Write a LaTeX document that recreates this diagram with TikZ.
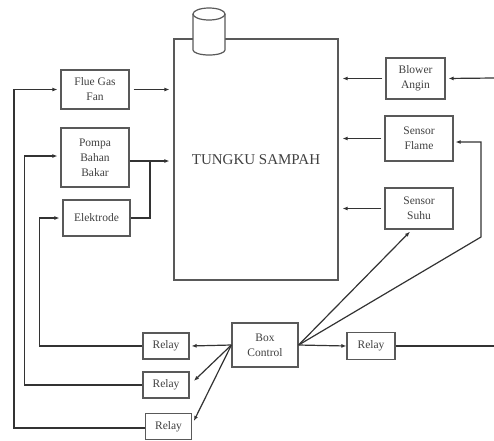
\documentclass[tikz,border=0pt]{standalone}
\usepackage{fontspec}
\setmainfont{Liberation Serif}
\usepackage{tikz}
\usetikzlibrary{arrows.meta,positioning,calc}

\begin{document}
\begin{tikzpicture}[
  x=1pt, y=-1pt,
  box/.style={draw=black!65, line width=1.2pt, align=center, inner sep=1pt,
    text=black!75, font=\fontsize{11.5}{15}\selectfont},
  relaybox/.style={box, minimum width=46pt, minimum height=26pt},
  arr/.style={-{Latex[length=5pt,width=4pt]}, line width=1.2pt, draw=black!80},
  wire/.style={line width=1.2pt, draw=black!80}
]
  \useasboundingbox (0,0) rectangle (494,440);

  % furnace with chimney
  \node[box, minimum width=164pt, minimum height=241pt,
    font=\fontsize{15}{17}\selectfont] (tungku) at (256,159.5) {TUNGKU SAMPAH};
  \draw[draw=black!65, line width=1.2pt, fill=white] (193,14) -- (193,50)
    arc[start angle=180, end angle=0, x radius=16, y radius=5] -- (225,14);
  \draw[draw=black!65, line width=1.2pt, fill=white] (209,14) ellipse[x radius=16, y radius=6];

  % actuators (left)
  \node[box, minimum width=68pt, minimum height=39pt] (flue) at (95,89.5) {Flue Gas\\Fan};
  \node[box, minimum width=68pt, minimum height=59pt] (pompa) at (95,157.5) {Pompa\\Bahan\\Bakar};
  \node[box, minimum width=67pt, minimum height=36pt] (elek) at (96.5,218) {Elektrode};

  % blower and sensors (right)
  \node[box, minimum width=59pt, minimum height=41pt] (blower) at (415.5,78.5) {Blower\\Angin};
  \node[box, minimum width=68pt, minimum height=45pt] (flame) at (419,138.5) {Sensor\\Flame};
  \node[box, minimum width=68pt, minimum height=41pt] (suhu) at (419,208.5) {Sensor\\Suhu};

  % controller and relays
  \node[box, minimum width=66pt, minimum height=44pt] (ctrl) at (265,345) {Box\\Control};
  \node[relaybox, minimum width=48pt, minimum height=27pt] (relayR) at (371,346) {Relay};
  \node[relaybox] (relayA) at (166,346) {Relay};
  \node[relaybox] (relayB) at (166,385) {Relay};
  \node[relaybox] (relayC) at (168.5,426.5) {Relay};

  \coordinate (j) at (150,161);
  \coordinate (inBlower) at (494,78);
  \coordinate (outRelay) at (494,346);

  % into the furnace
  \draw[arr, shorten <=4pt, shorten >=4pt] (flue.east) -- (tungku.west |- flue.east);
  \draw[wire] (pompa.east |- j) -- (j);
  \draw[wire] (elek.east) -| (j);
  \draw[arr, shorten >=4pt] (j) -- (tungku.west |- j);
  \draw[arr, shorten <=3pt, shorten >=4pt] (blower.west) -- (tungku.east |- blower.west);
  \draw[arr, shorten <=3pt, shorten >=4pt] (flame.west) -- (tungku.east |- flame.west);
  \draw[arr, shorten <=3pt, shorten >=4pt] (suhu.west) -- (tungku.east |- suhu.west);
  \draw[arr, shorten >=3pt] (inBlower) -- (blower.east);

  % controller outputs
  \draw[arr, shorten >=3pt] (ctrl.east) -- ([xshift=-7pt]suhu.south);
  \draw[arr, shorten >=2pt] (ctrl.east) -- (481,237) |- ([yshift=-3.5pt]flame.east);
  \draw[arr] (ctrl.east) -- (relayR.west);
  \draw[wire] (relayR.east) -- (outRelay);
  \draw[arr, shorten >=2pt] (ctrl.west) -- (relayA.east);
  \draw[arr, shorten >=6pt] (ctrl.west) -- (relayB.east);
  \draw[arr, shorten >=4pt] (ctrl.west) -- ([yshift=2pt]relayC.east);

  % relay lines back to the actuators
  \draw[arr, shorten >=3pt] (relayA.west) -- ++(-103,0) |- (elek.west);
  \draw[arr, shorten >=3pt] (relayB.west) -- ++(-118,0) |- ([yshift=1.5pt]pompa.west);
  \draw[arr, shorten >=3pt] ([yshift=-1.5pt]relayC.west) -- ++(-131,0) |- (flue.west);
\end{tikzpicture}
\end{document}
